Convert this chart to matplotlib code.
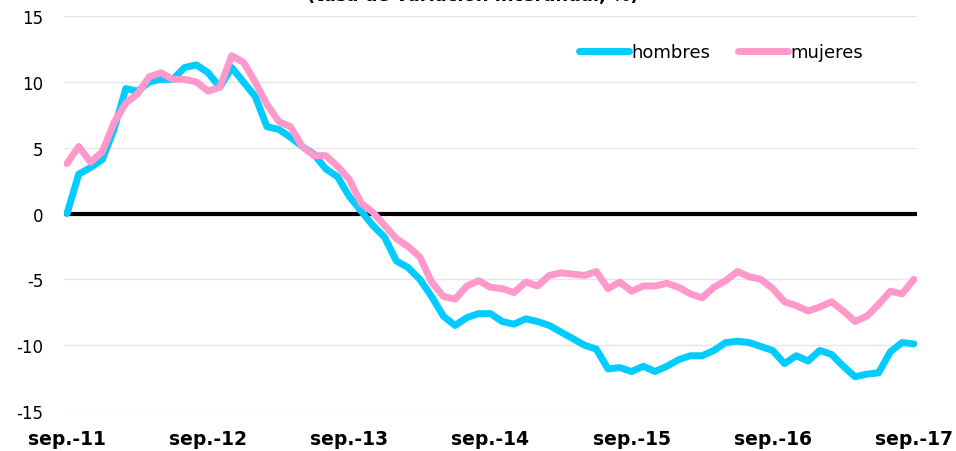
import numpy as np
import matplotlib.pyplot as plt

# monthly series, sep-2011 .. sep-2017
hombres = [0.0, 3.0, 3.5, 4.1, 6.4, 9.5, 9.3, 10.0, 10.2, 10.2, 11.1, 11.3,
           10.7, 9.6, 11.1, 10.0, 8.9, 6.6, 6.4, 5.8, 5.1, 4.5, 3.4, 2.8,
           1.3, 0.2, -0.9, -1.8, -3.6, -4.1, -5.0, -6.3, -7.8, -8.5, -7.9, -7.6,
           -7.6, -8.2, -8.4, -8.0, -8.2, -8.5, -9.0, -9.5, -10.0, -10.3, -11.8, -11.7,
           -12.0, -11.6, -12.0, -11.6, -11.1, -10.8, -10.8, -10.4, -9.8, -9.7, -9.8, -10.1,
           -10.4, -11.4, -10.8, -11.2, -10.4, -10.7, -11.6, -12.4, -12.2, -12.1, -10.5, -9.8,
           -9.9]
mujeres = [3.8, 5.1, 3.9, 4.7, 6.9, 8.4, 9.1, 10.4, 10.7, 10.2, 10.2, 10.0,
           9.3, 9.6, 12.0, 11.5, 10.0, 8.3, 7.0, 6.6, 5.1, 4.4, 4.4, 3.6,
           2.6, 0.8, 0.1, -0.9, -1.9, -2.5, -3.3, -5.2, -6.3, -6.5, -5.5, -5.1,
           -5.6, -5.7, -6.0, -5.2, -5.5, -4.7, -4.5, -4.6, -4.7, -4.4, -5.7, -5.2,
           -5.9, -5.5, -5.5, -5.3, -5.6, -6.1, -6.4, -5.6, -5.1, -4.4, -4.8, -5.0,
           -5.7, -6.7, -7.0, -7.4, -7.1, -6.7, -7.4, -8.2, -7.8, -6.9, -5.9, -6.1,
           -5.0]
tick_labels = ['sep.-11', 'sep.-12', 'sep.-13', 'sep.-14', 'sep.-15', 'sep.-16', 'sep.-17']

plt.rcParams['font.family'] = ['DejaVu Sans']
plt.rcParams['axes.unicode_minus'] = False

fig = plt.figure(figsize=(9.56, 4.52), dpi=100)
ax = fig.add_axes([0.067, 0.0885, 0.892, 0.8735])

x = np.arange(len(hombres))
ax.axhline(0, color='black', lw=3, zorder=2)
ax.plot(x, hombres, color='#00CCFF', lw=5, label='hombres', zorder=3,
        solid_joinstyle='round', solid_capstyle='round')
ax.plot(x, mujeres, color='#FF99CC', lw=5, label='mujeres', zorder=4,
        solid_joinstyle='round', solid_capstyle='round')

ax.set_ylim(-15, 15)
ax.set_xlim(-0.25, len(hombres) - 0.75)
ax.set_yticks(range(-15, 16, 5))
ax.set_xticks(range(0, len(hombres), 12))
ax.set_xticklabels(tick_labels, fontsize=13.5, fontweight='bold')
ax.tick_params(axis='y', labelsize=12, length=0, pad=15)
ax.tick_params(axis='x', length=0, pad=13)
ax.grid(axis='y', color='#E6E6E6', lw=1)
ax.set_axisbelow(True)
for s in ax.spines.values():
    s.set_visible(False)

ax.legend(loc='center right', bbox_to_anchor=(863 / 956, 1 - 53 / 452),
          bbox_transform=fig.transFigure, ncol=2, frameon=False, fontsize=13,
          handlelength=2.75, columnspacing=1.5, handletextpad=0.15,
          borderpad=0, borderaxespad=0)

# title mostly cut off at the top of the image
fig.text(0.494, 0.99, '(tasa de variación interanual, %)', ha='center', va='bottom',
         fontsize=13, fontweight='bold')

fig.savefig('out.png', dpi=100)
